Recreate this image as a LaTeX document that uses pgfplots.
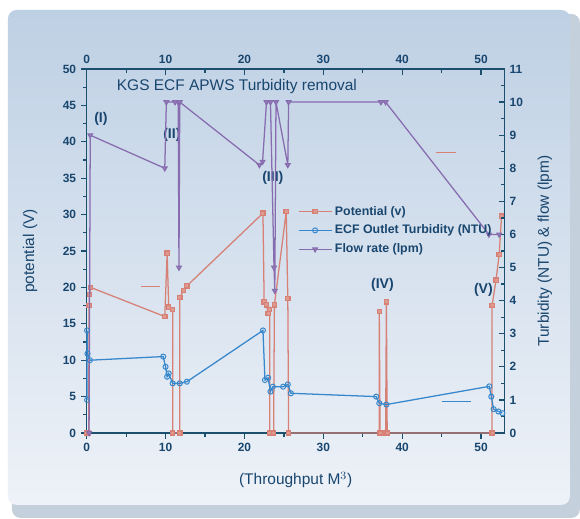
\documentclass[border=0pt]{standalone}
\usepackage{fontspec}
\setmainfont{Liberation Sans}
\usepackage{pgfplots}
\pgfplotsset{compat=1.18}

\definecolor{pot}{RGB}{214,128,118}
\definecolor{turb}{RGB}{55,135,205}
\definecolor{flow}{RGB}{135,108,175}
\definecolor{axc}{RGB}{26,80,110}
\definecolor{txt}{RGB}{25,70,110}
\definecolor{paneltop}{RGB}{190,208,228}
\definecolor{panelbot}{RGB}{238,242,248}
\definecolor{bevel}{RGB}{196,208,220}

\pgfplotsset{
  common/.style={
    scale only axis, width=10.45cm, height=9.1cm,
    at={(2.1675cm,2.125cm)}, anchor=south west,
    xmin=0, xmax=53,
    xtick={0,10,...,50}, minor x tick num=1,
    axis line style={axc, line width=1.1pt, -},
    every tick/.style={axc, line width=0.9pt},
    major tick length=4pt, minor tick length=2.5pt,
    tick label style={font=\fontsize{8.5}{10}\selectfont\bfseries, text=txt},
    /pgf/number format/assume math mode=true,
    label style={font=\fontsize{11}{13}\selectfont, text=txt},
    clip=false,
  },
}

\begin{document}
\begin{tikzpicture}
\useasboundingbox (0,0) rectangle (14.5cm,12.95cm);
% frame and panel
\begin{scope}[x=0.025cm, y=-0.025cm, shift={(0,12.95cm)}]
  \fill[white] (0,0) rectangle (580,518);
  \fill[bevel, rounded corners=6] (12,14) rectangle (580,518);
  \shade[top color=paneltop, bottom color=panelbot, rounded corners=6] (8,10) rectangle (570,505);
\end{scope}

% left axis: cell potential
\begin{axis}[common,
  ymin=0, ymax=50,
  axis x line*=bottom, axis y line*=left,
  tick align=outside,
  ytick={0,5,...,50}, minor y tick num=1,
  xlabel={(Throughput M$^{3}$)},
  ylabel={potential (V)},
  xlabel style={at={(axis description cs:0.5,-0.129)}, anchor=center},
  ylabel style={at={(axis description cs:-0.1356,0.5)}, anchor=center},
]
\addplot[pot, line width=0.9pt, mark=square*, mark size=1.5pt,
  mark options={fill=pot!80, draw=pot}] coordinates {
  (0,0) (0.25,0) (0.3,17.5) (0.35,19.0) (0.5,20.0) (9.9,16.0)
  (10.2,24.7) (10.4,17.3) (10.9,17.0) (10.9,0) (11.8,0) (11.8,18.6)
  (12.3,19.6) (12.7,20.2) (22.35,30.2) (22.5,18.0) (22.8,17.6)
  (23.0,16.4) (23.2,17.0) (23.2,0) (23.7,0) (23.8,17.6) (25.3,30.4)
  (25.5,18.5) (25.6,0) (37.1,0) (37.1,16.7) (37.2,0) (37.9,0)
  (38.0,18.0) (38.1,0) (51.4,0) (51.4,17.5) (51.9,21.0) (52.3,24.5)
  (52.6,29.8)
};
\addplot[pot, line width=0.9pt] coordinates {(6.9,20.1) (9.3,20.1)};

\node[font=\fontsize{10}{12}\selectfont\bfseries, text=txt] at (axis cs:1.8,43.1) {(I)};
\node[font=\fontsize{10}{12}\selectfont\bfseries, text=txt] at (axis cs:10.8,40.9) {(II)};
\node[font=\fontsize{10}{12}\selectfont\bfseries, text=txt] at (axis cs:23.6,35.0) {(III)};
\node[font=\fontsize{10}{12}\selectfont\bfseries, text=txt] at (axis cs:37.5,20.3) {(IV)};
\node[font=\fontsize{10}{12}\selectfont\bfseries, text=txt] at (axis cs:50.3,19.6) {(V)};
\node[font=\fontsize{11}{13}\selectfont, text=txt, anchor=west] at (axis cs:3.2,47.66) {KGS ECF APWS Turbidity removal};
\end{axis}

% right axis: turbidity and flow
\begin{axis}[common,
  ymin=0, ymax=11,
  axis x line*=top, axis y line*=right,
  tick align=inside,
  ytick={0,1,...,11}, minor y tick num=1,
  ylabel={Turbidity (NTU) \& flow (lpm)},
  ylabel style={at={(axis description cs:1.096,0.5)}, anchor=center, rotate=0},
  legend style={at={(axis description cs:0.505,0.632)}, anchor=north west,
    draw=none, fill=none, font=\fontsize{8.8}{10}\selectfont\bfseries,
    text=txt, row sep=1.5pt, inner sep=0pt,
    cells={anchor=west}},
  legend image code/.code={
    \draw[mark repeat=2, mark phase=2, #1] plot coordinates {(0cm,0cm) (0.41cm,0cm) (0.82cm,0cm)};
  },
]
\addlegendimage{pot, line width=0.9pt, mark=square*, mark size=1.5pt, mark options={fill=pot!80, draw=pot}}
\addlegendentry{Potential (v)}
\addplot[turb, line width=0.9pt, mark=o, mark size=1.8pt,
  mark options={fill=turb!15, line width=0.7pt}] coordinates {
  (0.05,1.0) (0.05,3.1) (0.1,2.4) (0.4,2.2) (9.7,2.31) (10.0,2.0)
  (10.2,1.7) (10.4,1.8) (10.9,1.5) (11.8,1.5) (12.7,1.55) (22.35,3.1)
  (22.6,1.6) (23.0,1.67) (23.3,1.25) (23.6,1.4) (24.9,1.4) (25.5,1.47)
  (25.9,1.2) (36.7,1.1) (37.1,0.9) (38.0,0.86) (51.05,1.41) (51.3,1.1)
  (51.6,0.72) (52.2,0.65) (52.7,0.6)
};
\addlegendentry{ECF Outlet Turbidity (NTU)}
\addplot[flow, line width=0.9pt, mark=triangle*, mark size=1.8pt,
  mark options={rotate=180, fill=flow!80}] coordinates {
  (0.3,0) (0.45,9.0) (9.9,8.0) (10.1,10.0) (11.2,10.0) (11.6,10.0)
  (11.7,5.0) (11.8,10.0) (21.9,8.1) (22.3,8.2) (22.8,10.0) (23.3,10.0)
  (23.75,5.0) (23.85,4.3) (24.0,10.0) (25.5,8.1) (25.6,10.0) (37.3,10.0)
  (37.9,10.0) (51.0,6.0) (52.3,6.0)
};
\addlegendentry{Flow rate (lpm)}
\addplot[pot, line width=0.9pt, forget plot] coordinates {(44.3,8.47) (46.8,8.47)};
\addplot[turb, line width=0.9pt, forget plot] coordinates {(45.1,0.95) (48.7,0.95)};
\end{axis}
\end{tikzpicture}
\end{document}
